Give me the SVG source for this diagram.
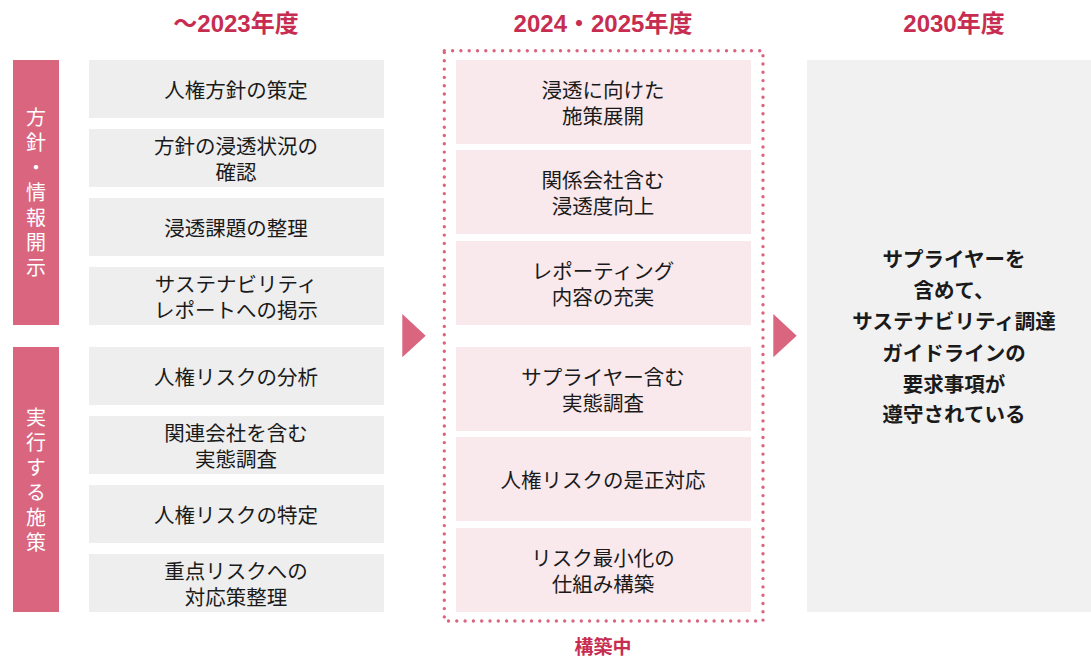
<svg xmlns="http://www.w3.org/2000/svg" width="1091" height="659" viewBox="0 0 1091 659">
<style>
text{font-family:"Noto Sans CJK JP","Noto Sans",sans-serif;text-anchor:middle;dominant-baseline:central}
.hd{fill:#c62d51;font-size:24px;font-weight:bold;font-family:"Liberation Sans","Noto Sans CJK JP",sans-serif}
.st{fill:#c62d51;font-size:19px;font-weight:bold}
.bar{fill:#d9657f}
.bt{fill:#ffffff;font-size:20px;writing-mode:vertical-rl;letter-spacing:5px}
.g{fill:#eeeeee}
.p{fill:#f9e8ec}
.t{fill:#1a1a1a;font-size:20.5px}
.r{fill:#1a1a1a;font-size:20.5px;font-weight:bold}
.arr{fill:#d9657f}
</style>
<rect width="1091" height="659" fill="#ffffff"/>
<g id="headers">
<text class="hd" x="236" y="23">～2023年度</text>
<text class="hd" x="603" y="23">2024・2025年度</text>
<text class="hd" x="954" y="23">2030年度</text>
</g>
<g id="cat1">
<rect class="bar" x="13" y="60" width="46" height="265"/>
<text class="bt" x="36" y="195">方針・情報開示</text>
</g>
<g id="cat2">
<rect class="bar" x="13" y="347" width="46" height="265"/>
<text class="bt" x="36" y="482">実行する施策</text>
</g>
<g id="a1"><rect class="g" x="89" y="60" width="295" height="58"/><text class="t" x="236" y="89">人権方針の策定</text></g>
<g id="a2"><rect class="g" x="89" y="129" width="295" height="58"/><text class="t" x="236" y="145">方針の浸透状況の<tspan x="236" dy="26">確認</tspan></text></g>
<g id="a3"><rect class="g" x="89" y="198" width="295" height="58"/><text class="t" x="236" y="227">浸透課題の整理</text></g>
<g id="a4"><rect class="g" x="89" y="267" width="295" height="58"/><text class="t" x="236" y="283">サステナビリティ<tspan x="236" dy="26">レポートへの掲示</tspan></text></g>
<g id="a5"><rect class="g" x="89" y="347" width="295" height="58"/><text class="t" x="236" y="376">人権リスクの分析</text></g>
<g id="a6"><rect class="g" x="89" y="416" width="295" height="58"/><text class="t" x="236" y="432">関連会社を含む<tspan x="236" dy="26">実態調査</tspan></text></g>
<g id="a7"><rect class="g" x="89" y="485" width="295" height="58"/><text class="t" x="236" y="514">人権リスクの特定</text></g>
<g id="a8"><rect class="g" x="89" y="554" width="295" height="58"/><text class="t" x="236" y="570">重点リスクへの<tspan x="236" dy="26">対応策整理</tspan></text></g>
<g id="phase2">
<rect x="444.3" y="50.7" width="318.7" height="570.3" fill="none" stroke="#d9657f" stroke-width="3.4" stroke-linecap="round" stroke-dasharray="0 8.3"/>
</g>
<g id="b1"><rect class="p" x="456" y="60" width="295" height="84"/><text class="t" x="603" y="89">浸透に向けた<tspan x="603" dy="26">施策展開</tspan></text></g>
<g id="b2"><rect class="p" x="456" y="150" width="295" height="84"/><text class="t" x="603" y="179">関係会社含む<tspan x="603" dy="26">浸透度向上</tspan></text></g>
<g id="b3"><rect class="p" x="456" y="241" width="295" height="84"/><text class="t" x="603" y="270">レポーティング<tspan x="603" dy="26">内容の充実</tspan></text></g>
<g id="b4"><rect class="p" x="456" y="347" width="295" height="84"/><text class="t" x="603" y="376">サプライヤー含む<tspan x="603" dy="26">実態調査</tspan></text></g>
<g id="b5"><rect class="p" x="456" y="437" width="295" height="84"/><text class="t" x="603" y="479">人権リスクの是正対応</text></g>
<g id="b6"><rect class="p" x="456" y="528" width="295" height="84"/><text class="t" x="603" y="557">リスク最小化の<tspan x="603" dy="26">仕組み構築</tspan></text></g>
<g id="status"><text class="st" x="603" y="645">構築中</text></g>
<g id="goal">
<rect fill="#f1f1f1" x="807" y="60" width="284" height="552"/>
<text class="r" x="954" y="258">サプライヤーを<tspan x="954" dy="31">含めて、</tspan><tspan x="954" dy="31">サステナビリティ調達</tspan><tspan x="954" dy="32">ガイドラインの</tspan><tspan x="954" dy="31">要求事項が</tspan><tspan x="954" dy="30">遵守されている</tspan></text>
</g>
<g id="connectors">
<polygon class="arr" points="402.3,314 425.7,335.7 402.3,357.3"/>
<polygon class="arr" points="773.3,314 796.7,335.7 773.3,357.3"/>
</g>
</svg>
